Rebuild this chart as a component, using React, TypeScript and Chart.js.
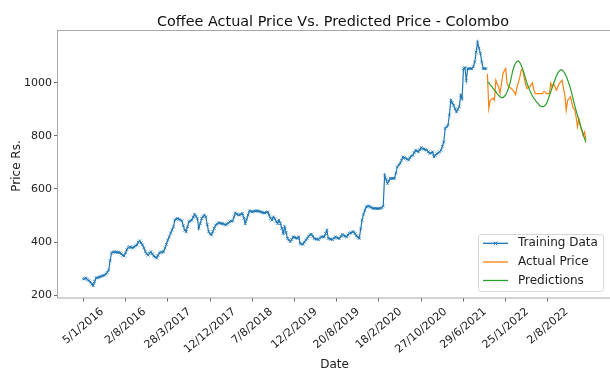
import { useEffect, useRef } from 'react';
import { Chart, registerables } from 'chart.js';

Chart.register(...registerables);

// Weekly Colombo coffee prices (Rs.) used for training
const trainingPrice = [
  261, 263, 265, 259, 255, 250, 242, 236, 252,
  265, 266, 268, 270, 272, 274, 276, 280, 286, 295,
  330, 359, 362, 364, 363, 361, 362, 360, 356,
  350, 348, 360, 372, 380, 383, 380, 378, 382, 386,
  389, 400, 405, 398, 390, 378, 365, 356, 351,
  358, 364, 356, 348, 344, 340, 350, 359, 362, 363,
  364, 378, 392, 408, 420, 434, 446, 458, 483,
  487, 489, 486, 483, 480, 462, 445, 439, 458, 477,
  480, 483, 494, 505, 497, 489, 452, 470, 489,
  496, 502, 495, 466, 439, 432, 427, 440, 452, 464,
  468, 473, 472, 470, 470, 467, 464, 468, 472,
  477, 479, 480, 495, 510, 506, 503, 502, 505, 508,
  490, 470, 486, 502, 518, 516, 514, 516, 517,
  518, 517, 516, 514, 512, 510, 510, 512, 514, 502,
  489, 483, 495, 488, 478, 470, 483, 470, 452,
  433, 458, 436, 414, 408, 402, 410, 420, 418, 416,
  414, 420, 395, 393, 392, 400, 408, 414, 422,
  428, 430, 422, 414, 412, 411, 410, 415, 420, 420,
  420, 432, 445, 414, 412, 411, 410, 415, 420,
  417, 415, 414, 422, 429, 425, 422, 420, 427, 433,
  435, 438, 439, 432, 424, 418, 414, 450, 483,
  505, 520, 533, 535, 536, 532, 529, 527, 527, 527,
  526, 527, 527, 530, 536, 652, 636, 621, 630,
  640, 640, 640, 640, 660, 683, 690, 696, 708, 721,
  718, 715, 712, 709, 718, 724, 727, 737, 746,
  743, 740, 748, 756, 752, 750, 748, 746, 740, 734,
  736, 740, 721, 726, 732, 736, 740, 746, 760,
  777, 828, 834, 840, 878, 934, 925, 915, 902, 890,
  900, 909, 953, 940, 1053, 1057, 1009, 1053, 1053,
  1053, 1053, 1060, 1078, 1115, 1153, 1130, 1110, 1078, 1053,
  1053, 1053,
];

// Test period: observed prices
const actualPrice = [
  1034, 903, 934, 938, 941, 934, 1009, 995, 984, 959,
  997, 1034, 1045, 1053, 997, 986, 982, 978, 972, 965,
  955, 984, 1000, 1020, 1047, 1053, 1022, 997, 978, 982,
  984, 992, 999, 972, 959, 959, 959, 959, 959, 959,
  966, 966, 959, 959, 959, 999, 984, 997, 985, 972,
  985, 997, 1003, 1009, 980, 953, 897, 934, 940, 947,
  925, 903, 900, 871, 834, 865, 840, 821, 802, 815,
  784,
];

// Test period: model predictions
const predictedPrice = [
  1003, 1000, 992, 986, 979, 972, 966, 958, 952, 947,
  944, 944, 948, 955, 966, 980, 997, 1020, 1045, 1062,
  1074, 1081, 1082, 1076, 1066, 1050, 1036, 1018, 1000, 986,
  972, 960, 950, 941, 934, 927, 922, 914, 911, 910,
  911, 915, 922, 936, 951, 966, 982, 997, 1011, 1025,
  1036, 1044, 1048, 1048, 1043, 1035, 1025, 1010, 995, 978,
  958, 936, 915, 895, 876, 858, 840, 823, 806, 790,
  775,
];

// Date labels shown every 30th week
const dateTickLabels = [
  '5/1/2016', '2/8/2016', '28/3/2017', '12/12/2017', '7/8/2018', '12/2/2019',
  '20/8/2019', '18/2/2020', '27/10/2020', '29/6/2021', '25/1/2022', '2/8/2022',
];
const dateTickStep = 30;
const priceTicks = [200, 400, 600, 800, 1000];

const FONT = '"DejaVu Sans", "Liberation Sans", sans-serif';
const BLUE = '#1f77b4';
const ORANGE = '#ff7f0e';
const GREEN = '#2ca02c';

const CANVAS_W = 640;
const CANVAS_H = 369;
const PLOT_LEFT = 58;
const PLOT_TOP = 30;
const PLOT_BOTTOM = 297.5;
const PLOT_RIGHT = 611.3;

const decorations = {
  id: 'decorations',
  afterDraw(chart: any) {
    const { ctx, chartArea } = chart;
    const xScale = chart.scales.x;
    ctx.save();

    // axes frame
    ctx.strokeStyle = '#a8a8a8';
    ctx.lineWidth = 1;
    ctx.strokeRect(
      Math.round(chartArea.left) - 0.5,
      Math.round(chartArea.top) + 0.5,
      chartArea.right - chartArea.left,
      chartArea.bottom - chartArea.top
    );

    // rotated date labels, centred under each tick
    const theta = (40 * Math.PI) / 180;
    ctx.font = `11px ${FONT}`;
    ctx.fillStyle = '#222';
    ctx.textAlign = 'center';
    ctx.textBaseline = 'middle';
    const h = 12.5;
    dateTickLabels.forEach((label, k) => {
      const x = xScale.getPixelForValue(k * dateTickStep);
      const w = ctx.measureText(label).width;
      const H = w * Math.sin(theta) + h * Math.cos(theta);
      ctx.save();
      ctx.translate(x, chartArea.bottom + 8 + H / 2);
      ctx.rotate(-theta);
      ctx.fillText(label, 0, 0);
      ctx.restore();
    });

    // title
    ctx.font = `14.4px ${FONT}`;
    ctx.fillStyle = '#111';
    ctx.textAlign = 'center';
    ctx.textBaseline = 'alphabetic';
    ctx.fillText('Coffee Actual Price Vs. Predicted Price - Colombo', 333, 25.5);

    // axis titles
    ctx.font = `12px ${FONT}`;
    ctx.fillStyle = '#222';
    ctx.fillText('Date', 334.5, 368);
    ctx.save();
    ctx.translate(19.5, 166);
    ctx.rotate(-Math.PI / 2);
    ctx.textAlign = 'center';
    ctx.fillText('Price Rs.', 0, 0);
    ctx.restore();

    // legend
    const bx = 478.5, by = 234.5, bw = 125, bh = 57;
    ctx.beginPath();
    ctx.roundRect(bx, by, bw, bh, 3);
    ctx.fillStyle = 'rgba(255,255,255,0.85)';
    ctx.fill();
    ctx.strokeStyle = '#d6d6d6';
    ctx.lineWidth = 1;
    ctx.stroke();

    const rows = [
      { label: 'Training Data', color: BLUE, marker: true, y: 243.3 },
      { label: 'Actual Price', color: ORANGE, marker: false, y: 262 },
      { label: 'Predictions', color: GREEN, marker: false, y: 280.5 },
    ];
    rows.forEach((r) => {
      ctx.strokeStyle = r.color;
      ctx.lineWidth = 1.3;
      ctx.beginPath();
      ctx.moveTo(483, r.y);
      ctx.lineTo(508, r.y);
      ctx.stroke();
      if (r.marker) {
        const m = 1.8;
        ctx.lineWidth = 1;
        ctx.beginPath();
        ctx.moveTo(495.5 - m, r.y - m);
        ctx.lineTo(495.5 + m, r.y + m);
        ctx.moveTo(495.5 - m, r.y + m);
        ctx.lineTo(495.5 + m, r.y - m);
        ctx.stroke();
      }
      ctx.fillStyle = '#222';
      ctx.font = `12px ${FONT}`;
      ctx.textAlign = 'left';
      ctx.textBaseline = 'middle';
      ctx.fillText(r.label, 518, r.y);
    });

    ctx.restore();
  },
};

export default function App() {
  const canvasRef = useRef<HTMLCanvasElement | null>(null);

  useEffect(() => {
    const canvas = canvasRef.current;
    if (!canvas) return;

    const testStart = trainingPrice.length;
    const trainingPoints = trainingPrice.map((v, i) => ({ x: i, y: v }));
    const actualPoints = actualPrice.map((v, i) => ({ x: testStart + i, y: v }));
    const predictedPoints = predictedPrice.map((v, i) => ({ x: testStart + i, y: v }));

    const tickGrid = {
      drawOnChartArea: false,
      drawTicks: true,
      tickLength: 4,
      color: '#444',
      lineWidth: 0.8,
    };

    const chart = new Chart(canvas, {
      type: 'line',
      data: {
        datasets: [
          {
            label: 'Training Data',
            data: trainingPoints,
            borderColor: BLUE,
            borderWidth: 1.2,
            pointStyle: 'crossRot',
            pointRadius: 2,
            pointBorderWidth: 0.8,
            pointBorderColor: BLUE,
            pointBackgroundColor: BLUE,
            tension: 0,
            order: 2,
          },
          {
            label: 'Actual Price',
            data: actualPoints,
            borderColor: ORANGE,
            borderWidth: 1.2,
            pointRadius: 0,
            tension: 0,
            order: 1,
          },
          {
            label: 'Predictions',
            data: predictedPoints,
            borderColor: GREEN,
            borderWidth: 1.2,
            pointRadius: 0,
            tension: 0,
            order: 0,
          },
        ],
      },
      options: {
        responsive: false,
        animation: false,
        events: [],
        layout: {
          padding: { top: PLOT_TOP, right: CANVAS_W - PLOT_RIGHT, left: 0, bottom: 0 },
        },
        plugins: {
          legend: { display: false },
          title: { display: false },
          tooltip: { enabled: false },
        },
        scales: {
          x: {
            type: 'linear',
            min: -18,
            max: 375,
            afterFit(scale: any) {
              scale.height = CANVAS_H - PLOT_BOTTOM;
            },
            afterBuildTicks(scale: any) {
              scale.ticks = dateTickLabels.map((_, k) => ({ value: k * dateTickStep }));
            },
            ticks: { display: false },
            grid: tickGrid,
            border: { display: false },
          },
          y: {
            type: 'linear',
            min: 191.7,
            max: 1198.3,
            afterFit(scale: any) {
              scale.width = PLOT_LEFT;
            },
            afterBuildTicks(scale: any) {
              scale.ticks = priceTicks.map((v) => ({ value: v }));
            },
            ticks: {
              font: { family: FONT, size: 11 },
              color: '#222',
              padding: 2,
              callback: (value: any) => String(value),
            },
            grid: tickGrid,
            border: { display: false },
          },
        },
      },
      plugins: [decorations],
    });

    return () => chart.destroy();
  }, []);

  return (
    <div
      style={{
        position: 'fixed',
        left: 0,
        top: 0,
        width: 610,
        height: 369,
        overflow: 'hidden',
        background: '#fff',
      }}
    >
      <canvas ref={canvasRef} width={CANVAS_W} height={CANVAS_H} style={{ display: 'block' }} />
    </div>
  );
}
